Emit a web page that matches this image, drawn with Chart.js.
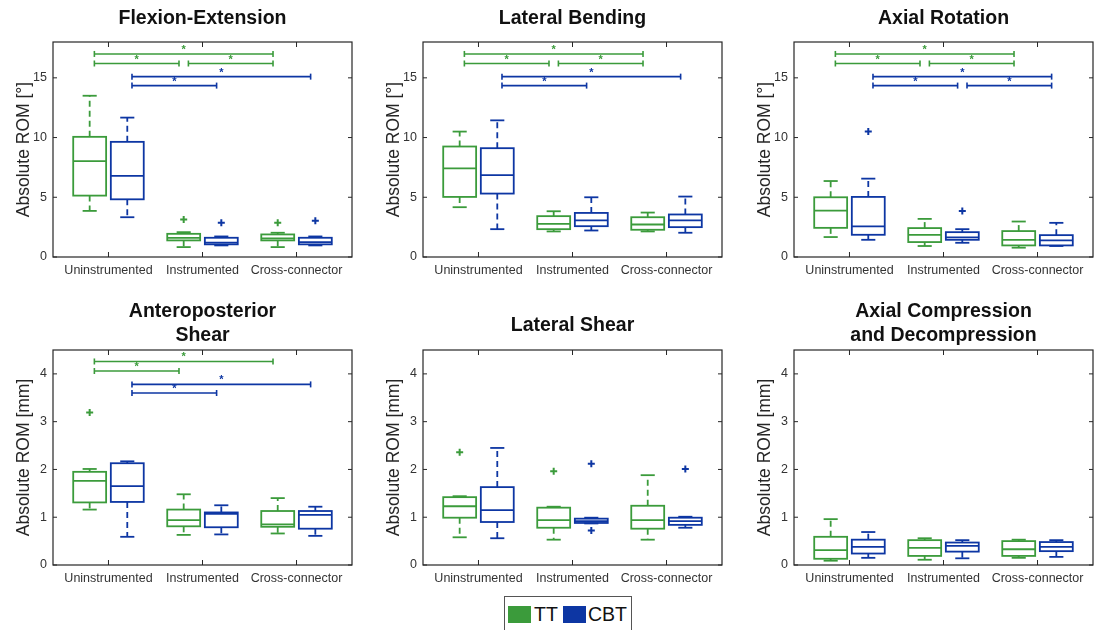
<!DOCTYPE html>
<html>
<head>
<meta charset="utf-8">
<script src="https://cdn.jsdelivr.net/npm/chart.js@4.4.1/dist/chart.umd.min.js"></script>
<style>
body { margin: 0; background: #fff; }
#page { position: relative; width: 1102px; height: 630px; overflow: hidden; font-family: 'Liberation Sans', Arial, sans-serif; }
.cell { position: absolute; }
.cell canvas { position: absolute; left: 0; top: 0; }
.ttl { position: absolute; left: 53px; width: 299px; text-align: center; font-weight: bold; font-size: 19.5px; line-height: 23.5px; color: #111; }
#legend { position: absolute; left: 504px; top: 596px; width: 126px; height: 40px; border: 1px solid #555; background: #fff; font-size: 19.5px; color: #111; }
#legend span { position: absolute; top: 9px; height: 17px; line-height: 17px; }
</style>
</head>
<body>
<div id="page"><div id="legend"></div></div>
<script>
const groups = ['Uninstrumented', 'Instrumented', 'Cross-connector'];
const seriesNames = ['TT', 'CBT'];
const seriesColors = ['#3b9b3b', '#0d36a3'];
const yTicksDeg = [0, 5, 10, 15];
const yTicksMm = [0, 1, 2, 3, 4];

// box stats per group: [lower whisker, q1, median, q3, upper whisker]
// outliers: [group, value]; significance bars: [from group, to group, level]
const flexTT = [[3.86, 5.14, 8.03, 10.06, 13.5], [0.83, 1.39, 1.6, 1.94, 2.08], [0.83, 1.39, 1.56, 1.89, 2.03]];
const flexCBT = [[3.33, 4.83, 6.8, 9.64, 11.67], [0.97, 1.06, 1.2, 1.61, 1.72], [0.97, 1.06, 1.25, 1.61, 1.72]];
const flexOutTT = [[2, 3.14], [3, 2.86]];
const flexOutCBT = [[2, 2.86], [3, 3.03]];
const flexSigTT = [[1, 3, 17.0], [1, 2, 16.2], [2, 3, 16.2]];
const flexSigCBT = [[1, 3, 15.1], [1, 2, 14.35]];

const latbTT = [[4.17, 5.03, 7.42, 9.25, 10.5], [2.14, 2.33, 2.78, 3.42, 3.83], [2.14, 2.28, 2.72, 3.33, 3.72]];
const latbCBT = [[2.33, 5.31, 6.86, 9.11, 11.44], [2.22, 2.58, 3.06, 3.69, 5.0], [2.03, 2.5, 3.06, 3.56, 5.06]];
const latbSigTT = [[1, 3, 17.0], [1, 2, 16.2], [2, 3, 16.2]];
const latbSigCBT = [[1, 3, 15.1], [1, 2, 14.35]];

const axrTT = [[1.67, 2.44, 3.89, 5.0, 6.36], [0.92, 1.25, 1.86, 2.42, 3.19], [0.78, 0.97, 1.44, 2.17, 2.97]];
const axrCBT = [[1.44, 1.86, 2.56, 5.03, 6.56], [1.19, 1.44, 1.64, 2.08, 2.33], [0.92, 0.97, 1.39, 1.83, 2.86]];
const axrOutCBT = [[1, 10.5], [2, 3.86]];
const axrSigTT = [[1, 3, 17.0], [1, 2, 16.2], [2, 3, 16.2]];
const axrSigCBT = [[1, 3, 15.1], [1, 2, 14.35], [2, 3, 14.35]];

const apTT = [[1.16, 1.31, 1.76, 1.95, 2.01], [0.63, 0.81, 0.94, 1.16, 1.48], [0.66, 0.8, 0.85, 1.13, 1.4]];
const apCBT = [[0.59, 1.32, 1.65, 2.13, 2.17], [0.64, 0.79, 1.07, 1.1, 1.25], [0.61, 0.76, 1.05, 1.13, 1.22]];
const apOutTT = [[1, 3.19]];
const apSigTT = [[1, 3, 4.26], [1, 2, 4.06]];
const apSigCBT = [[1, 3, 3.78], [1, 2, 3.6]];

const lsTT = [[0.58, 0.99, 1.23, 1.42, 1.44], [0.53, 0.78, 0.94, 1.2, 1.22], [0.53, 0.76, 0.94, 1.24, 1.88]];
const lsCBT = [[0.56, 0.9, 1.15, 1.63, 2.45], [0.87, 0.88, 0.92, 0.97, 0.99], [0.78, 0.84, 0.92, 0.99, 1.01]];
const lsOutTT = [[1, 2.36], [2, 1.96]];
const lsOutCBT = [[2, 2.12], [2, 0.72], [3, 2.01]];

const acTT = [[0.09, 0.13, 0.31, 0.59, 0.96], [0.11, 0.19, 0.36, 0.52, 0.56], [0.15, 0.19, 0.33, 0.5, 0.53]];
const acCBT = [[0.15, 0.24, 0.38, 0.53, 0.69], [0.14, 0.28, 0.4, 0.47, 0.52], [0.17, 0.29, 0.38, 0.48, 0.52]];

const panels = [
  { title: ['Flexion-Extension'], unit: '°', yMax: 18, yTicks: yTicksDeg, stats: [flexTT, flexCBT], out: [flexOutTT, flexOutCBT], sig: [flexSigTT, flexSigCBT] },
  { title: ['Lateral Bending'], unit: '°', yMax: 18, yTicks: yTicksDeg, stats: [latbTT, latbCBT], out: [[], []], sig: [latbSigTT, latbSigCBT] },
  { title: ['Axial Rotation'], unit: '°', yMax: 18, yTicks: yTicksDeg, stats: [axrTT, axrCBT], out: [[], axrOutCBT], sig: [axrSigTT, axrSigCBT] },
  { title: ['Anteroposterior', 'Shear'], unit: 'mm', yMax: 4.5, yTicks: yTicksMm, stats: [apTT, apCBT], out: [apOutTT, []], sig: [apSigTT, apSigCBT] },
  { title: ['Lateral Shear'], unit: 'mm', yMax: 4.5, yTicks: yTicksMm, stats: [lsTT, lsCBT], out: [lsOutTT, lsOutCBT], sig: [[], []] },
  { title: ['Axial Compression', 'and Decompression'], unit: 'mm', yMax: 4.5, yTicks: yTicksMm, stats: [acTT, acCBT], out: [[], []], sig: [[], []] }
];

// layout
const colLeft = [0, 370, 741];
const rowTop = [0, 290];
const rowH = [290, 300];
const padTop = [42, 60];
const xAxisH = [33, 25];
const offs = [-0.2, 0.2];
const boxHalf = 0.175, capHalf = 0.075, sigInset = 0.05;
const axisColor = '#262626';

Chart.defaults.font.family = "'Liberation Sans', Arial, sans-serif";

function line(ctx, x1, y1, x2, y2) {
  ctx.beginPath();
  ctx.moveTo(x1, y1);
  ctx.lineTo(x2, y2);
  ctx.stroke();
}

function boxPlugin(p) {
  return {
    id: 'boxplot',
    beforeDatasetsDraw(chart) {
      const { ctx, scales: { x, y } } = chart;
      const Y = v => y.getPixelForValue(v);
      ctx.save();
      ctx.lineWidth = 1.8;
      p.stats.forEach((stats, s) => {
        ctx.strokeStyle = seriesColors[s];
        stats.forEach(([lo, q1, med, q3, hi], i) => {
          const c = i + 1 + offs[s];
          const xl = x.getPixelForValue(c - boxHalf), xr = x.getPixelForValue(c + boxHalf);
          const xc = x.getPixelForValue(c);
          const cl = x.getPixelForValue(c - capHalf), cr = x.getPixelForValue(c + capHalf);
          ctx.setLineDash([6, 4]);
          line(ctx, xc, Y(q3), xc, Y(hi));
          line(ctx, xc, Y(q1), xc, Y(lo));
          ctx.setLineDash([]);
          ctx.strokeRect(xl, Y(q3), xr - xl, Y(q1) - Y(q3));
          line(ctx, xl, Y(med), xr, Y(med));
          line(ctx, cl, Y(hi), cr, Y(hi));
          line(ctx, cl, Y(lo), cr, Y(lo));
        });
      });
      // significance bars
      ctx.lineWidth = 1.6;
      p.sig.forEach((bars, s) => {
        ctx.strokeStyle = seriesColors[s];
        ctx.fillStyle = seriesColors[s];
        bars.forEach(([g1, g2, lvl]) => {
          const x1 = x.getPixelForValue(g1 + offs[s] + sigInset);
          const x2 = x.getPixelForValue(g2 + offs[s] - sigInset);
          const yy = Y(lvl);
          line(ctx, x1, yy, x2, yy);
          line(ctx, x1, yy - 3, x1, yy + 3);
          line(ctx, x2, yy - 3, x2, yy + 3);
          ctx.font = "bold 11px 'Liberation Sans', Arial, sans-serif";
          ctx.textAlign = 'center';
          ctx.textBaseline = 'middle';
          ctx.fillText('*', (x1 + x2) / 2, yy - 4);
        });
      });
      ctx.restore();
    },
    afterDraw(chart) {
      const { ctx, chartArea: a, scales: { x, y } } = chart;
      ctx.save();
      ctx.strokeStyle = axisColor;
      ctx.lineWidth = 1.2;
      ctx.strokeRect(a.left, a.top, a.right - a.left, a.bottom - a.top);
      ctx.lineWidth = 1;
      y.ticks.forEach(t => {
        const py = y.getPixelForValue(t.value);
        line(ctx, a.left, py, a.left + 4, py);
        line(ctx, a.right, py, a.right - 4, py);
      });
      x.ticks.forEach(t => {
        const px = x.getPixelForValue(t.value);
        line(ctx, px, a.bottom, px, a.bottom - 5);
        line(ctx, px, a.top, px, a.top + 5);
      });
      ctx.restore();
    }
  };
}

const page = document.getElementById('page');

panels.forEach((p, idx) => {
  const col = idx % 3, row = Math.floor(idx / 3);
  const cell = document.createElement('div');
  cell.className = 'cell';
  cell.style.left = colLeft[col] + 'px';
  cell.style.top = rowTop[row] + 'px';
  cell.style.width = '362px';
  cell.style.height = rowH[row] + 'px';
  const cv = document.createElement('canvas');
  cv.width = 362;
  cv.height = rowH[row];
  cell.appendChild(cv);
  const t = document.createElement('div');
  t.className = 'ttl';
  t.innerHTML = p.title.join('<br>');
  t.style.top = (row === 0 ? 6 : (p.title.length > 1 ? 9 : 23)) + 'px';
  cell.appendChild(t);
  page.appendChild(cell);

  const datasets = p.out.map((arr, s) => ({
    label: seriesNames[s],
    data: arr.map(([g, v]) => ({ x: g + offs[s], y: v })),
    pointStyle: 'cross',
    radius: 3.5,
    borderWidth: 2,
    borderColor: seriesColors[s],
    backgroundColor: seriesColors[s]
  }));

  new Chart(cv, {
    type: 'scatter',
    data: { datasets: datasets },
    options: {
      responsive: false,
      animation: false,
      devicePixelRatio: 1,
      layout: { padding: { top: padTop[row], right: 10, left: 0, bottom: 0 } },
      plugins: { legend: { display: false }, tooltip: { enabled: false } },
      scales: {
        x: {
          type: 'linear',
          min: 0.41,
          max: 3.59,
          grid: { display: false, drawTicks: false },
          border: { display: false },
          afterBuildTicks: s => { s.ticks = [1, 2, 3].map(v => ({ value: v })); },
          afterFit: s => { s.height = xAxisH[row]; },
          ticks: {
            autoSkip: false,
            maxRotation: 0,
            padding: 6,
            color: '#333',
            font: { size: 12.5 },
            callback: v => groups[Math.round(v) - 1]
          }
        },
        y: {
          type: 'linear',
          min: 0,
          max: p.yMax,
          grid: { display: false, drawTicks: false },
          border: { display: false },
          afterBuildTicks: s => { s.ticks = p.yTicks.map(v => ({ value: v })); },
          afterFit: s => { s.width = 53; },
          ticks: { padding: 6, color: '#333', font: { size: 12.5 } },
          title: {
            display: true,
            text: 'Absolute ROM [' + p.unit + ']',
            color: '#262626',
            font: { size: 17.5 },
            padding: { top: 14, bottom: 0 }
          }
        }
      }
    },
    plugins: [boxPlugin(p)]
  });
});

// legend
const legend = document.getElementById('legend');
const swLeft = [3, 58], txtLeft = [29, 83];
seriesNames.forEach((name, s) => {
  const sw = document.createElement('span');
  sw.style.left = swLeft[s] + 'px';
  sw.style.width = '23px';
  sw.style.background = seriesColors[s];
  legend.appendChild(sw);
  const tx = document.createElement('span');
  tx.style.left = txtLeft[s] + 'px';
  tx.textContent = name;
  legend.appendChild(tx);
});
</script>
</body>
</html>
